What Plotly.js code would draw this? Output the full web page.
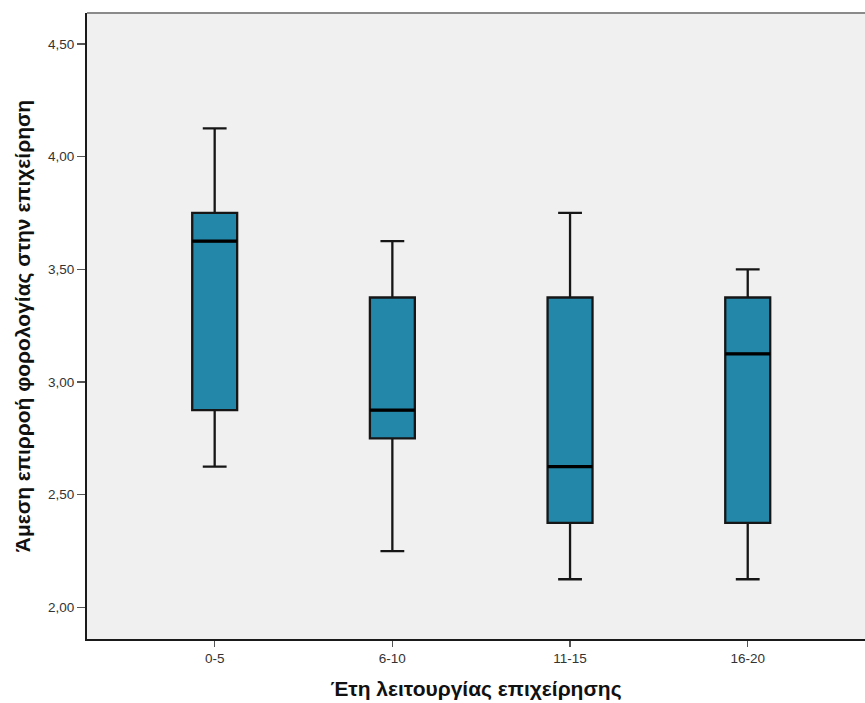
<!DOCTYPE html>
<html>
<head>
<meta charset="utf-8">
<script src="https://cdn.plot.ly/plotly-3.0.1.min.js"></script>
<style>
  html, body { margin: 0; padding: 0; background: #ffffff; }
  #chart { width: 865px; height: 703px; }
</style>
</head>
<body>
<div id="chart"></div>
<script>
// Years in operation groups
const groups = ["0-5", "6-10", "11-15", "16-20"];

// Five-number summaries per group
const lowerWhisker = [2.625, 2.25, 2.125, 2.125];
const q1Values     = [2.875, 2.75, 2.375, 2.375];
const medianValues = [3.625, 2.875, 2.625, 3.125];
const q3Values     = [3.75, 3.375, 3.375, 3.375];
const upperWhisker = [4.125, 3.625, 3.75, 3.5];

// y-axis ticks
const yTicks = [2.0, 2.5, 3.0, 3.5, 4.0, 4.5];

const boxFill = "#2387a9";
const titleFont = "Liberation Sans Narrow, Arial Narrow, sans-serif";

// Boxes with whiskers
const boxes = {
  type: "box",
  x: groups,
  q1: q1Values,
  median: medianValues,
  q3: q3Values,
  lowerfence: lowerWhisker,
  upperfence: upperWhisker,
  width: 0.253,
  whiskerwidth: 0.53,
  fillcolor: boxFill,
  line: { color: "#161616", width: 2.3 },
  hoverinfo: "skip",
  showlegend: false
};

// Heavier median bars drawn over the boxes
const medians = {
  type: "box",
  x: groups,
  q1: medianValues,
  median: medianValues,
  q3: medianValues,
  lowerfence: medianValues,
  upperfence: medianValues,
  width: 0.253,
  whiskerwidth: 0,
  fillcolor: "rgba(0,0,0,0)",
  line: { color: "#000000", width: 3.2 },
  hoverinfo: "skip",
  showlegend: false
};

const layout = {
  width: 865,
  height: 703,
  margin: { l: 87, r: 0, t: 13, b: 64 },
  paper_bgcolor: "#ffffff",
  plot_bgcolor: "#f0f0f0",
  separators: ",.",
  boxmode: "overlay",
  font: { family: "Liberation Sans, Arial, sans-serif", color: "#333333", size: 13 },
  xaxis: {
    type: "category",
    categoryorder: "array",
    categoryarray: groups,
    range: [-0.7186, 3.66],
    showgrid: false,
    zeroline: false,
    showline: true,
    linecolor: "#1a1a1a",
    linewidth: 2,
    ticks: "outside",
    ticklen: 6,
    tickwidth: 1.5,
    tickcolor: "#555555",
    tickfont: { size: 13.5, color: "#333333" },
    title: {
      text: "<b>Έτη λειτουργίας επιχείρησης</b>",
      font: { family: titleFont, size: 21, color: "#111111" },
      standoff: 16
    }
  },
  yaxis: {
    range: [1.86, 4.637],
    tickvals: yTicks,
    tickformat: ".2f",
    showgrid: false,
    zeroline: false,
    showline: true,
    linecolor: "#1a1a1a",
    linewidth: 2,
    ticks: "outside",
    ticklen: 8,
    tickwidth: 1.5,
    tickcolor: "#555555",
    tickfont: { size: 13.5, color: "#333333" },
    title: {
      text: "<b>Άμεση επιρροή φορολογίας στην επιχείρηση</b>",
      font: { family: titleFont, size: 21, color: "#111111" },
      standoff: 12
    }
  },
  shapes: [
    {
      type: "line", xref: "paper", yref: "paper",
      x0: 0, x1: 1, y0: 1, y1: 1,
      line: { color: "#8a8a8a", width: 2 }
    }
  ]
};

Plotly.newPlot("chart", [boxes, medians], layout, { displayModeBar: false, staticPlot: true });
</script>
</body>
</html>
